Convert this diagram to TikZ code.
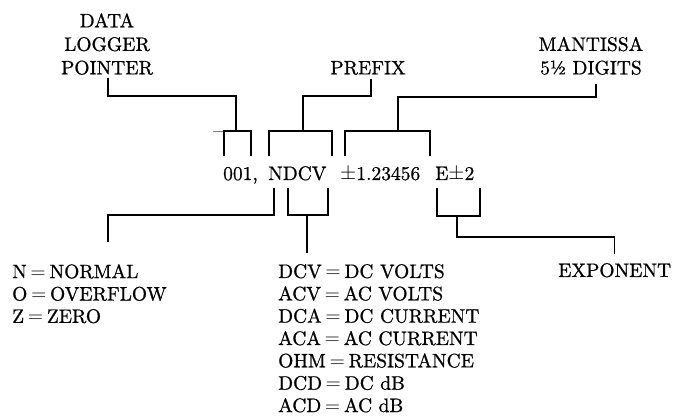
\documentclass[tikz,border=0pt]{standalone}
\usepackage{fontspec}
\setmainfont{lmroman10-regular.otf}[FakeBold=0.8]
\usepackage{tikz}
\newcommand{\eqs}{\hspace{0.2em}$=$\hspace{0.2em}}

\begin{document}
\begin{tikzpicture}[
  x=1pt,
  y=-1pt,
  txt/.style={inner sep=0pt,font=\fontsize{19.5}{23.5}\selectfont,align=center},
  lst/.style={inner sep=0pt,font=\fontsize{19.5}{22.35}\selectfont,align=left},
  lead/.style={line width=1.3pt}
]
  \useasboundingbox (0,0) rectangle (673,419);
  % labels above
  \node[txt,anchor=south] (ptr) at (107,75) {DATA\\LOGGER\\POINTER};
  \node[txt,anchor=south] (pfx) at (368,75) {PREFIX};
  \node[txt,anchor=south] (man) at (591,75) {MANTISSA\\5\textonehalf{} DIGITS};
  % the reading
  \node[txt,anchor=base west] (cnt) at (223,180) {001,};
  \node[txt,anchor=base west] (fnc) at (268,180) {NDCV};
  \node[txt,anchor=base west] (mnt) at (340,180) {$\pm$1.23456};
  \node[txt,anchor=base west] (xpn) at (435,180) {E$\pm$2};
  % labels below
  \node[lst,anchor=north west] (flag) at (12,264) {N\eqs NORMAL\\O\eqs OVERFLOW\\Z\eqs ZERO};
  \node[lst,anchor=north west] (func) at (278,264) {DCV\eqs DC VOLTS\\ACV\eqs AC VOLTS\\DCA\eqs DC CURRENT\\ACA\eqs AC CURRENT\\OHM\eqs RESISTANCE\\DCD\eqs DC dB\\ACD\eqs AC dB};
  \node[txt,anchor=north west] (expo) at (558,263) {EXPONENT};

  \coordinate (cntbr) at (236,131);
  \coordinate (fncbr) at (303,131);
  \coordinate (mntbr) at (398,131);
  \coordinate (flagbr) at (274,188);
  \coordinate (funcbr) at (307,215);
  \coordinate (xpnbr) at (457,216);

  % brackets above
  \draw[line width=0.5pt,gray] (213,131) -- (224,131);
  \draw[lead] (224,156) |- (251,131) -- (251,156);
  \draw[lead] (269,156) |- (332,131) -- (332,156);
  \draw[lead] (345,156) |- (430,131) -- (430,156);
  \draw[lead] ([xshift=1pt,yshift=-3pt]ptr.south) -- ++(0,18) -| (cntbr);
  \draw[lead] ([xshift=3pt,yshift=-4pt]pfx.south) -- ++(0,17) -| (fncbr);
  \draw[lead] ([xshift=5pt,yshift=-9pt]man.south) -- ++(0,13) -| (mntbr);

  % brackets below
  \draw[lead] (flagbr) |- (108,215) -- (108,242);
  \draw[lead] (288,188) |- (328,215) -- (328,188);
  \draw[lead] (funcbr) -- ++(0,38);
  \draw[lead] (437,188) |- (480,216) -- (480,188);
  \draw[lead] (xpnbr) -- ++(0,21) -| ([yshift=9pt]expo.north);
\end{tikzpicture}
\end{document}
